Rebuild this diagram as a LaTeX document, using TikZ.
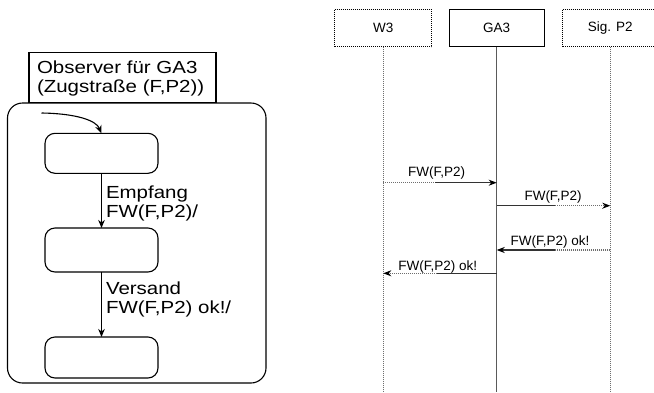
\documentclass[tikz,border=0pt]{standalone}
\usepackage{fontspec}
\setmainfont{Liberation Sans}
\newfontfamily\widesans[FakeStretch=1.17]{Liberation Sans}
\usetikzlibrary{arrows.meta}
\definecolor{lifegray}{HTML}{5A5A5A}
\definecolor{dotgray}{HTML}{6E6E6E}
\definecolor{msggray}{HTML}{333333}
\begin{document}
\begin{tikzpicture}[x=1pt,y=-1pt,
  every node/.style={inner sep=0pt, outer sep=0pt},
  bigtext/.style={font=\widesans\fontsize{17.5}{19}\selectfont, align=left, anchor=north west},
  statebox/.style={draw, line width=1.1pt, rounded corners=10pt, minimum width=113pt},
  leftarrow/.style={draw, line width=1.1pt, -{Stealth[length=8pt,width=6.5pt,inset=2.5pt]}},
  hdr/.style={minimum height=37.5pt, font=\fontsize{13.5}{15}\selectfont},
  dotbox/.style={draw=black, line width=0.8pt, dash pattern=on 1pt off 1pt},
  dotline/.style={draw=dotgray, line width=1.1pt, dash pattern=on 1pt off 1pt},
  msgsolid/.style={draw=msggray, line width=1.1pt},
  msgdot/.style={draw=dotgray, line width=1.1pt, dash pattern=on 1pt off 1pt},
  msgtip/.style={-{Stealth[length=8pt,width=6pt,inset=2.5pt,color=black]}},
  msgtext/.style={font=\fontsize{13.5}{15}\selectfont, anchor=base}
]
\useasboundingbox (0,0) rectangle (654,392);
\clip (0,0) rectangle (654,392);

% ---------- left: observer automaton ----------
\node[draw, line width=1.1pt, rounded corners=15pt, minimum width=258.5pt, minimum height=280pt] (outer) at (136.75,243) {};
\node[draw, line width=1.1pt, fill=white, minimum width=187pt, minimum height=50.5pt] (titlebox) at (122.5,77.5) {};
\node[bigtext] (title) at (37,60.5) {Observer für GA3\\(Zugstraße (F,P2))};

\node[statebox, minimum height=40pt] (st1) at (101.5,153.3) {};
\node[statebox, minimum height=44pt] (st2) at (101.5,250) {};
\node[statebox, minimum height=41pt] (st3) at (101.5,357.5) {};

\coordinate (init) at (41.5,113);
\draw[leftarrow] (init) .. controls (75,113.5) and (96,120) .. (st1.north);
\draw[leftarrow] (st1.south) -- (st2.north);
\draw[leftarrow] (st2.south) -- (st3.north);

\node[bigtext] (t1) at (106,185.5) {Empfang\\FW(F,P2)/};
\node[bigtext] (t2) at (106,281.5) {Versand\\FW(F,P2) ok!/};

% ---------- right: sequence diagram ----------
\node[hdr, dotbox, minimum width=97pt] (w3) at (383.3,27.8) {W3};
\node[hdr, draw=black, line width=1.1pt, minimum width=95pt] (ga3) at (496.7,27.8) {GA3};
\node[hdr, dotbox, minimum width=95pt] (sp2) at (610.3,27.8) {Sig. P2};

\coordinate (w3end) at (383.3,392);
\coordinate (ga3end) at (496.7,392);
\coordinate (sp2end) at (610.3,392);
\draw[dotline] (w3) -- (w3end);
\draw[draw=lifegray, line width=1.3pt] (ga3) -- (ga3end);
\draw[dotline] (sp2) -- (sp2end);

% message 1: W3 -> GA3
\coordinate (m1a) at (383.3,182.7);
\coordinate (m1m) at (435,182.7);
\coordinate (m1b) at (496.7,182.7);
\draw[msgdot] (m1a) -- (m1m);
\draw[msgsolid, msgtip] (m1m) -- (m1b);
\node[msgtext] (l1) at (436.7,176.7) {FW(F,P2)};

% message 2: GA3 -> Sig. P2
\coordinate (m2a) at (496.7,205.7);
\coordinate (m2m) at (555,205.7);
\coordinate (m2b) at (610.3,205.7);
\draw[msgsolid] (m2a) -- (m2m);
\draw[msgdot, msgtip] (m2m) -- (m2b);
\node[msgtext] (l2) at (553,200) {FW(F,P2)};

% message 3: Sig. P2 -> GA3
\coordinate (m3a) at (610.3,250);
\coordinate (m3m) at (555,250);
\coordinate (m3b) at (496.7,250);
\draw[msgdot] (m3a) -- (m3m);
\draw[msgsolid, msgtip] (m3m) -- (m3b);
\node[msgtext] (l3) at (550,245) {FW(F,P2) ok!};

% message 4: GA3 -> W3
\coordinate (m4a) at (496.7,273.3);
\coordinate (m4m) at (437,273.3);
\coordinate (m4b) at (383.3,273.3);
\draw[msgsolid] (m4a) -- (m4m);
\draw[msgdot, msgtip] (m4m) -- (m4b);
\node[msgtext] (l4) at (437.7,270) {FW(F,P2) ok!};
\end{tikzpicture}
\end{document}
